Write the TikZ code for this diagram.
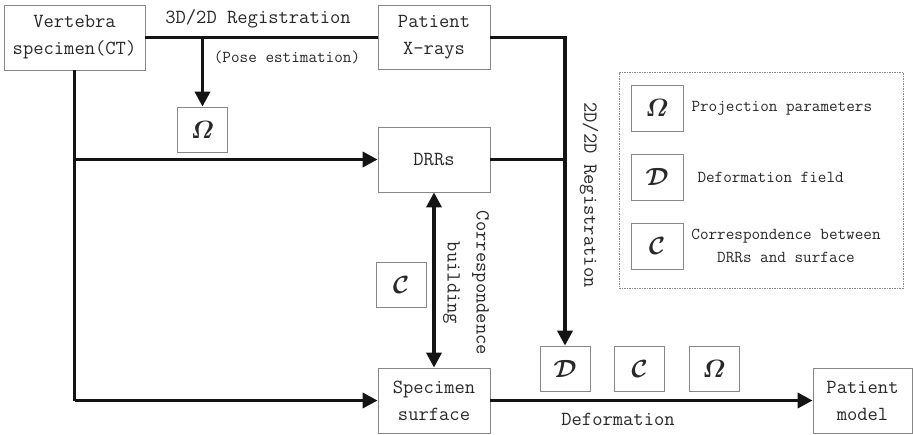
\documentclass[tikz,border=0pt]{standalone}
\usepackage{amsmath,bm}
\usepackage{fontspec}
\usetikzlibrary{arrows.meta,calc}
\definecolor{boxgray}{RGB}{135,135,135}
\definecolor{ink}{RGB}{20,20,20}
\definecolor{txt}{RGB}{40,40,40}
\tikzset{
  every node/.style={text=txt, font=\ttfamily\fontsize{20}{27}\selectfont},
  block/.style={draw=boxgray, line width=0.8pt, align=center, inner sep=0pt},
  symbox/.style={draw=boxgray, line width=0.8pt, minimum width=50pt, minimum height=45pt, inner sep=0pt, font=\fontsize{24}{28}\selectfont},
  flow/.style={draw=ink, line width=3.6pt},
  arr/.style={flow, -{Triangle[length=15pt,width=15pt]}},
  darr/.style={flow, {Triangle[length=15pt,width=15pt]}-{Triangle[length=15pt,width=15pt]}},
  small/.style={font=\ttfamily\fontsize{16.7}{23}\selectfont},
}
\newcommand{\OmegaSym}{$\bm{\varOmega}$}
\newcommand{\DSym}{$\bm{\mathcal{D}}$}
\newcommand{\CSym}{$\bm{\mathcal{C}}$}
\begin{document}
\begin{tikzpicture}[x=1pt, y=-1pt]
\useasboundingbox (0,0) rectangle (913,434);

% main blocks
\node[block, minimum width=141pt, minimum height=65pt] (vert) at (74.5,37.5) {Vertebra\\specimen(CT)};
\node[block, minimum width=112pt, minimum height=64pt] (xray) at (434,37.5) {Patient\\X-rays};
\node[block, minimum width=112pt, minimum height=65pt] (drr) at (434,159.5) {DRRs};
\node[block, minimum width=112pt, minimum height=65pt] (spec) at (434,400.5) {Specimen\\surface};
\node[block, minimum width=99pt, minimum height=65pt] (model) at (862.5,400.5) {Patient\\model};

% parameter boxes
\node[symbox] (om1) at (202.5,129.5) {\OmegaSym};
\node[symbox] (c1) at (401,284.5) {\CSym};
\node[symbox] (d2) at (565,368.5) {\DSym};
\node[symbox] (c2) at (639.5,368.5) {\CSym};
\node[symbox] (om2) at (714,368.5) {\OmegaSym};

% connectors
\draw[flow] (vert) -- (xray);
\draw[arr] (om1 |- vert.east) -- (om1.north);
\draw[arr] (xray.east) -| (d2.north);
\draw[flow] (drr.east) -- (d2 |- drr.east);
\draw[flow] (vert.south) -- (vert.south |- spec.west);
\draw[arr] (vert.south |- drr.west) -- (drr.west);
\draw[arr] (vert.south |- spec.west) -- (spec.west);
\draw[darr] (drr.south) -- (spec.north);
\draw[arr] (spec) -- (model);

% connector labels
\node (lreg) at (258,19) {3D/2D Registration};
\node[small] (lpose) at (287,57) {(Pose estimation)};
\node[rotate=-90] (l2d) at (589,195) {2D/2D Registration};
\node[rotate=-90, align=center, font=\ttfamily\fontsize{20}{29}\selectfont] (lcorr) at (466,283) {Correspondence\\building};
\node (ldef) at (618,419) {Deformation};

% legend
\node[draw=boxgray, dash pattern=on 1.5pt off 1pt, line width=0.6pt, minimum width=284pt, minimum height=216pt, inner sep=0pt] (legend) at (761,180) {};
\node[symbox, minimum width=52pt, minimum height=46pt] (kom) at (657,108) {\OmegaSym};
\node[symbox, minimum width=52pt, minimum height=46pt] (kd) at (657,177) {\DSym};
\node[symbox, minimum width=52pt, minimum height=46pt] (kc) at (657,246) {\CSym};
\node[small, anchor=west] (tom) at (688,108) {Projection parameters};
\node[small, anchor=west] (td) at (694,177) {Deformation field};
\node[small, align=center] (tc) at (786,246) {Correspondence between\\DRRs and surface};
\end{tikzpicture}
\end{document}
